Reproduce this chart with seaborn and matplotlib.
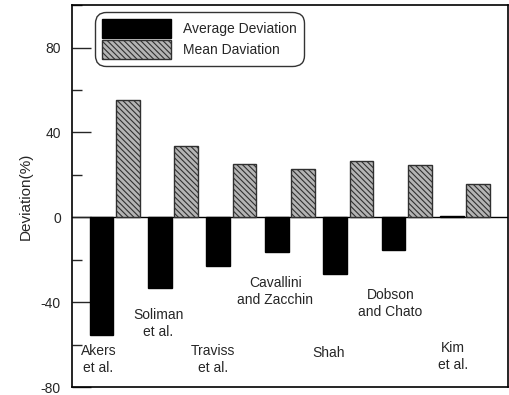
import matplotlib
matplotlib.use("Agg")
import matplotlib.pyplot as plt
import seaborn as sns
import pandas as pd
import numpy as np
from matplotlib.ticker import MultipleLocator

sns.set_style("white")
plt.rcParams["font.family"] = ["Liberation Sans", "DejaVu Sans"]
plt.rcParams["hatch.linewidth"] = 0.8

# Correlation names and their deviations (%)
correlations = ["Akers\net al.", "Soliman\net al.", "Traviss\net al.",
                "Cavallini\nand Zacchin", "Shah", "Dobson\nand Chato", "Kim\net al."]
average_deviation = [-55.3, -33.5, -23.0, -16.5, -26.5, -15.3, 0.6]
mean_deviation = [55.3, 33.5, 25.0, 23.0, 26.5, 24.7, 15.8]

# Label placement (x in category units, y in % deviation)
label_x = [-0.28, 0.75, 1.69, 2.75, 3.66, 4.72, 5.8]
label_y = [-67, -50, -67, -35, -64, -40.5, -65.5]

series = ["Average Deviation", "Mean Daviation"]
df = pd.DataFrame({
    "correlation": correlations * 2,
    "series": [series[0]] * len(correlations) + [series[1]] * len(correlations),
    "value": average_deviation + mean_deviation,
})

fig = plt.figure(figsize=(5.09, 3.95), dpi=100)
ax = fig.add_axes([0.1415, 0.02, 0.857, 0.967])

sns.barplot(data=df, x="correlation", y="value", hue="series",
            palette=["black", "#b4b4b4"], width=0.9, gap=0.1,
            edgecolor="black", linewidth=1.0, ax=ax, legend=True)

# Hatch the mean-deviation bars
hatch = "\\\\\\\\\\\\"
n = len(correlations)
for i, patch in enumerate(ax.patches[:2 * n]):
    if i >= n:
        patch.set_hatch(hatch)
        patch.set_edgecolor("#303030")
        patch.set_linewidth(1.0)

ax.axhline(0, color="black", lw=1.0, zorder=0.5)

ax.set_xlim(-0.73, 6.74)
ax.set_ylim(-80, 100)
ax.set_xticks([])
ax.set_xlabel("")
ax.set_ylabel("Deviation(%)", fontsize=11, labelpad=6)
ax.yaxis.set_major_locator(MultipleLocator(40))
ax.yaxis.set_minor_locator(MultipleLocator(20))
ax.set_yticks([-80, -40, 0, 40, 80])
ax.set_yticklabels(["-80", "-40", "0", "40", "80"])
ax.tick_params(axis="y", which="major", direction="in", length=14, width=1.0,
               labelsize=10, pad=8, left=True)
ax.tick_params(axis="y", which="minor", direction="in", length=7, width=1.0, left=True)

for s in ax.spines.values():
    s.set_color("black")
    s.set_linewidth(1.2)

for lx, ly, txt in zip(label_x, label_y, correlations):
    ax.text(lx, ly, txt, ha="center", va="center", fontsize=10, linespacing=1.25)

handles, labels = ax.get_legend_handles_labels()
handles[1].set_hatch(hatch)
handles[1].set_edgecolor("#303030")
leg = ax.legend(handles, labels, loc="upper left", bbox_to_anchor=(0.052, 0.982),
                fontsize=10, frameon=True, fancybox=True, edgecolor="black",
                handlelength=5.0, handleheight=1.75, handletextpad=0.85,
                borderpad=0.5, labelspacing=0.15, borderaxespad=0)
leg.get_frame().set_linewidth(1.0)
leg.get_frame().set_boxstyle("round", pad=0.0, rounding_size=0.8)
# widen the frame on the right, as the box extends past the labels
fig.canvas.draw()
leg.get_frame().set_width(leg.get_frame().get_width() + 20)

fig.savefig("out.png", dpi=100)
